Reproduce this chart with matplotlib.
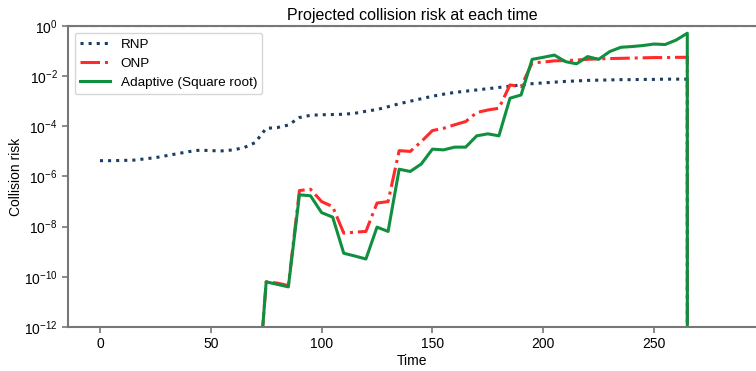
import numpy as np
import matplotlib
matplotlib.use("Agg")
import matplotlib.pyplot as plt

plt.rcParams['font.family'] = ['Liberation Sans', 'DejaVu Sans']

time = [0, 5, 10, 15, 20, 25, 30, 35, 40, 45, 50, 55, 60, 65, 70, 75, 80, 85,
        90, 95, 100, 105, 110, 115, 120, 125, 130, 135, 140, 145, 150, 155,
        160, 165, 170, 175, 180, 185, 190, 195, 200, 205, 210, 215, 220, 225,
        230, 235, 240, 245, 250, 255, 260, 265, 267]

# log10 of collision risk (None -> zero risk)
rnp_log = [-5.37, -5.37, -5.36, -5.35, -5.30, -5.25, -5.17, -5.09, -5.01, -4.95,
           -4.97, -4.98, -4.94, -4.85, -4.65, -4.08, -4.05, -3.95, -3.65, -3.56,
           -3.54, -3.53, -3.52, -3.48, -3.40, -3.33, -3.22, -3.10, -3.00, -2.90,
           -2.80, -2.72, -2.65, -2.60, -2.55, -2.50, -2.45, -2.40, -2.35, -2.30,
           -2.27, -2.24, -2.21, -2.19, -2.17, -2.16, -2.15, -2.14, -2.14, -2.13,
           -2.13, -2.12, -2.12, -2.12, None]
onp_log = [None] * 14 + [-16.0, -10.2, -10.25, -10.35, -6.56, -6.51, -7.0, -7.2,
           -8.26, -8.22, -8.19, -7.06, -7.0, -4.97, -5.0, -4.61, -4.17, -4.08,
           -3.94, -3.81, -3.45, -3.35, -3.28, -2.35, -2.42, -1.47, -1.44, -1.39,
           -1.38, -1.36, -1.33, -1.31, -1.30, -1.29, -1.28, -1.27, -1.26, -1.26,
           -1.25, -1.25, None]
ada_log = [None] * 14 + [-16.0, -10.2, -10.3, -10.4, -6.73, -6.77, -7.44, -7.62,
           -9.06, -9.17, -9.29, -8.02, -8.19, -5.71, -5.8, -5.5, -4.91, -4.94,
           -4.83, -4.83, -4.38, -4.3, -4.38, -2.88, -2.75, -1.33, -1.25, -1.16,
           -1.42, -1.51, -1.22, -1.33, -1.02, -0.85, -0.82, -0.78, -0.72, -0.74,
           -0.56, -0.29, None]

def to_val(lst):
    return np.array([0.0 if v is None else 10.0 ** v for v in lst])

fig = plt.figure(figsize=(7.56, 3.71), dpi=100)
ax = fig.add_axes([0.090, 0.1186, 0.910, 0.8114])

ax.plot(time, to_val(rnp_log), ls=':', color='#1b3d63', lw=2.2, label='RNP')
ax.plot(time, to_val(onp_log), ls='-.', color='#ff2a2a', lw=2.2, label='ONP')
ax.plot(time, to_val(ada_log), ls='-', color='#0f8f3f', lw=2.2,
        label='Adaptive (Square root)')
ax.axhline(1.0, color='black', ls='--', lw=1.5)

ax.set_yscale('log')
ax.set_ylim(1e-12, 1e0)
ax.set_xlim(-14.4, 296)
ax.set_yticks([10.0 ** k for k in range(-12, 1, 2)])
ax.minorticks_off()
ax.set_xticks([0, 50, 100, 150, 200, 250])

for s in ['left', 'bottom', 'top']:
    ax.spines[s].set_color('#777777')
    ax.spines[s].set_linewidth(1.5)
ax.spines['right'].set_visible(False)
ax.tick_params(colors='#777777', labelcolor='black', labelsize=10, width=1.2, length=4)

ax.set_xlabel('Time', fontsize=10, labelpad=2)
ax.set_ylabel('Collision risk', fontsize=10, labelpad=1)
ax.set_title('Projected collision risk at each time', fontsize=11.5, pad=4)

leg = ax.legend(loc='upper left', fontsize=9.7, frameon=True, handlelength=2.2)
leg.get_frame().set_edgecolor('#cccccc')

fig.savefig('out.png', dpi=100)
